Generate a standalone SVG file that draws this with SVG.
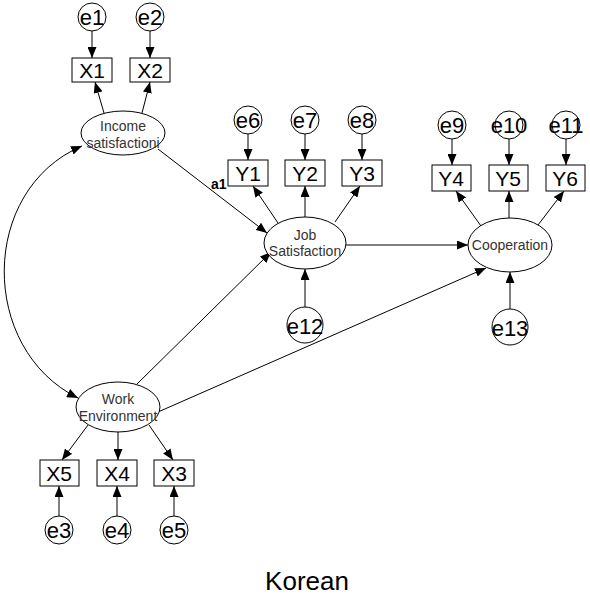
<svg xmlns="http://www.w3.org/2000/svg" width="590" height="604" viewBox="0 0 590 604">
<style>
.n{fill:#fff;stroke:#000;stroke-width:1}
.c{stroke:#000;stroke-width:1;fill:none}
.e{font-family:"Liberation Sans",Arial,sans-serif;font-size:22px;fill:#000;text-anchor:middle}
.b{font-family:"Liberation Sans",Arial,sans-serif;font-size:21px;fill:#000;text-anchor:middle}
.l{font-family:"Liberation Sans",Arial,sans-serif;font-size:14px;fill:#333;text-anchor:middle}
</style>
<defs>
<marker id="ar" markerWidth="11" markerHeight="9" refX="11" refY="4.5" orient="auto" markerUnits="userSpaceOnUse">
<path d="M0,0 L11,4.5 L0,9 Z" fill="#000"/>
</marker>
<marker id="as" markerWidth="11" markerHeight="9" refX="0" refY="4.5" orient="auto" markerUnits="userSpaceOnUse">
<path d="M11,0 L0,4.5 L11,9 Z" fill="#000"/>
</marker>
</defs>
<rect width="590" height="604" fill="#fff"/>
<g id="connectors">
<line class="c" x1="92" y1="31" x2="92" y2="58" marker-end="url(#ar)"/>
<line class="c" x1="150" y1="31" x2="150" y2="58" marker-end="url(#ar)"/>
<line class="c" x1="104" y1="113" x2="95" y2="82" marker-end="url(#ar)"/>
<line class="c" x1="142" y1="113" x2="150" y2="82" marker-end="url(#ar)"/>
<line class="c" x1="158" y1="149" x2="267" y2="233" marker-end="url(#ar)"/>
<line class="c" x1="248" y1="134" x2="248" y2="160" marker-end="url(#ar)"/>
<line class="c" x1="305" y1="134" x2="305" y2="160" marker-end="url(#ar)"/>
<line class="c" x1="362" y1="134" x2="362" y2="160" marker-end="url(#ar)"/>
<line class="c" x1="278" y1="223" x2="253" y2="186" marker-end="url(#ar)"/>
<line class="c" x1="305" y1="217" x2="305" y2="186" marker-end="url(#ar)"/>
<line class="c" x1="335" y1="222" x2="360" y2="186" marker-end="url(#ar)"/>
<line class="c" x1="305" y1="307" x2="305" y2="269" marker-end="url(#ar)"/>
<line class="c" x1="346" y1="245" x2="468" y2="245" marker-end="url(#ar)"/>
<line class="c" x1="452" y1="139" x2="452" y2="165" marker-end="url(#ar)"/>
<line class="c" x1="509" y1="139" x2="509" y2="165" marker-end="url(#ar)"/>
<line class="c" x1="566" y1="139" x2="566" y2="165" marker-end="url(#ar)"/>
<line class="c" x1="481" y1="226" x2="456" y2="191" marker-end="url(#ar)"/>
<line class="c" x1="509" y1="218" x2="509" y2="191" marker-end="url(#ar)"/>
<line class="c" x1="538" y1="225" x2="564" y2="191" marker-end="url(#ar)"/>
<line class="c" x1="510" y1="309" x2="510" y2="272" marker-end="url(#ar)"/>
<line class="c" x1="137" y1="384" x2="271" y2="252" marker-end="url(#ar)"/>
<line class="c" x1="158" y1="412" x2="486" y2="268" marker-end="url(#ar)"/>
<line class="c" x1="88" y1="425" x2="62" y2="460" marker-end="url(#ar)"/>
<line class="c" x1="118" y1="432" x2="118" y2="460" marker-end="url(#ar)"/>
<line class="c" x1="149" y1="425" x2="173" y2="460" marker-end="url(#ar)"/>
<line class="c" x1="59" y1="516" x2="59" y2="486" marker-end="url(#ar)"/>
<line class="c" x1="117" y1="516" x2="117" y2="486" marker-end="url(#ar)"/>
<line class="c" x1="174" y1="516" x2="174" y2="486" marker-end="url(#ar)"/>
<path class="c" d="M82,146 C-21,190 -21,349 78,398" marker-start="url(#as)" marker-end="url(#ar)"/>
</g>
<g id="e1"><circle class="n" cx="92" cy="17" r="14"/><text class="e" x="92" y="25">e1</text></g>
<g id="e2"><circle class="n" cx="150" cy="17" r="14"/><text class="e" x="150" y="25">e2</text></g>
<g id="X1"><rect class="n" x="72" y="58" width="40" height="24"/><text class="b" x="92" y="78">X1</text></g>
<g id="X2"><rect class="n" x="130" y="58" width="40" height="24"/><text class="b" x="150" y="78">X2</text></g>
<g id="income"><ellipse class="n" cx="123" cy="133" rx="42" ry="22"/><text class="l" x="123" y="131">Income</text><text class="l" x="123" y="148">satisfactioni</text></g>
<g id="a1"><text x="211" y="189" font-family="Liberation Sans,Arial,sans-serif" font-size="14" font-weight="bold">a1</text></g>
<g id="e6"><circle class="n" cx="248" cy="120" r="14"/><text class="e" x="248" y="128">e6</text></g>
<g id="e7"><circle class="n" cx="305" cy="120" r="14"/><text class="e" x="305" y="128">e7</text></g>
<g id="e8"><circle class="n" cx="362" cy="120" r="14"/><text class="e" x="362" y="128">e8</text></g>
<g id="Y1"><rect class="n" x="228" y="160" width="40" height="26"/><text class="b" x="248" y="181">Y1</text></g>
<g id="Y2"><rect class="n" x="285" y="160" width="40" height="26"/><text class="b" x="305" y="181">Y2</text></g>
<g id="Y3"><rect class="n" x="342" y="160" width="40" height="26"/><text class="b" x="362" y="181">Y3</text></g>
<g id="job"><ellipse class="n" cx="305" cy="243" rx="41" ry="26"/><text class="l" x="305" y="240">Job</text><text class="l" x="305" y="256">Satisfaction</text></g>
<g id="e12"><circle class="n" cx="305" cy="325" r="18"/><text class="e" x="305" y="334" font-size="24">e12</text></g>
<g id="e9"><circle class="n" cx="452" cy="125" r="14"/><text class="e" x="452" y="133">e9</text></g>
<g id="e10"><circle class="n" cx="509" cy="125" r="14"/><text class="e" x="509" y="133">e10</text></g>
<g id="e11"><circle class="n" cx="566" cy="125" r="14"/><text class="e" x="566" y="133">e11</text></g>
<g id="Y4"><rect class="n" x="432" y="165" width="39" height="26"/><text class="b" x="451" y="186">Y4</text></g>
<g id="Y5"><rect class="n" x="489" y="165" width="39" height="26"/><text class="b" x="508" y="186">Y5</text></g>
<g id="Y6"><rect class="n" x="546" y="165" width="39" height="26"/><text class="b" x="565" y="186">Y6</text></g>
<g id="coop"><ellipse class="n" cx="510" cy="245" rx="42" ry="27"/><text class="l" x="510" y="250">Cooperation</text></g>
<g id="e13"><circle class="n" cx="510" cy="327" r="18"/><text class="e" x="510" y="336" font-size="24">e13</text></g>
<g id="work"><ellipse class="n" cx="118" cy="407" rx="42" ry="25"/><text class="l" x="118" y="404">Work</text><text class="l" x="118" y="421">Environment</text></g>
<g id="X5"><rect class="n" x="40" y="460" width="39" height="26"/><text class="b" x="59" y="481">X5</text></g>
<g id="X4"><rect class="n" x="97" y="460" width="40" height="26"/><text class="b" x="117" y="481">X4</text></g>
<g id="X3"><rect class="n" x="154" y="460" width="40" height="26"/><text class="b" x="174" y="481">X3</text></g>
<g id="e3"><circle class="n" cx="59" cy="530" r="14"/><text class="e" x="59" y="538">e3</text></g>
<g id="e4"><circle class="n" cx="117" cy="530" r="14"/><text class="e" x="117" y="538">e4</text></g>
<g id="e5"><circle class="n" cx="174" cy="530" r="14"/><text class="e" x="174" y="538">e5</text></g>
<text x="307" y="590" font-family="Liberation Sans,Arial,sans-serif" font-size="26" text-anchor="middle">Korean</text>
</svg>
